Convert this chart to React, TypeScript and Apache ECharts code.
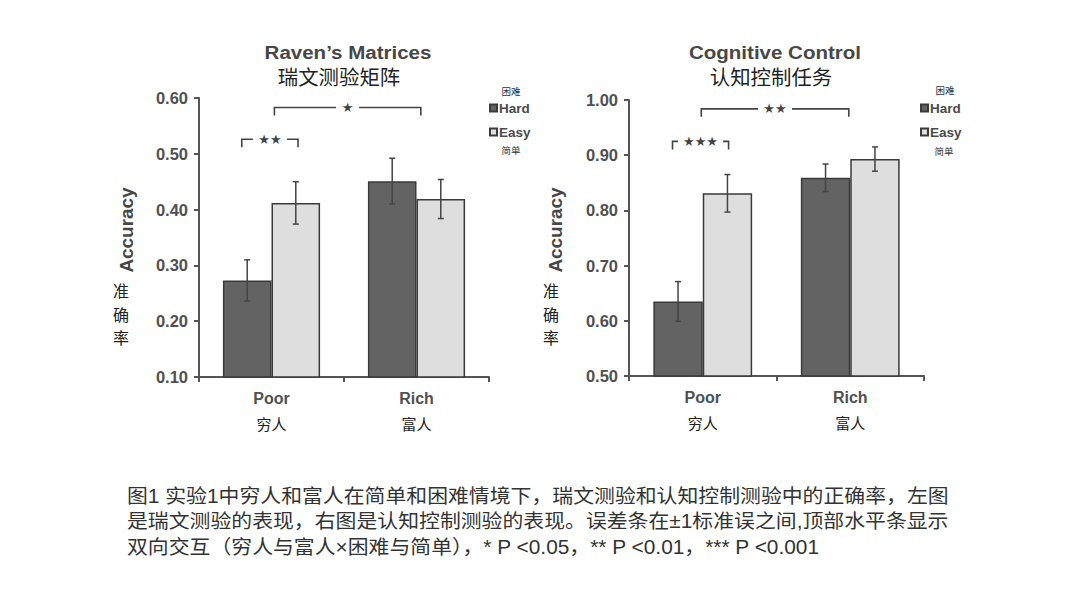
import React, { useEffect, useRef } from 'react';
import * as echarts from 'echarts';

const categories = ['Poor', 'Rich'];
const categoriesZh = ['穷人', '富人'];
const seriesNames = ['Hard', 'Easy'];
const seriesNamesZh = ['困难', '简单'];

const ravenHard = [0.273, 0.451];
const ravenHardErr = [0.037, 0.041];
const ravenEasy = [0.412, 0.419];
const ravenEasyErr = [0.038, 0.035];

const cogHard = [0.635, 0.859];
const cogHardErr = [0.036, 0.025];
const cogEasy = [0.831, 0.893];
const cogEasyErr = [0.034, 0.022];

const ravenAxis = { min: 0.1, max: 0.6, interval: 0.1 };
const cogAxis = { min: 0.5, max: 1.0, interval: 0.1 };

// brackets: [fromCategory, fromOffset(band fraction), toCategory, toOffset, yValue]
const ravenBrackets = [
  [0, -0.205, 0, 0.183, 0.526],
  [0, 0.02, 1, 0.03, 0.583],
];
const ravenBracketLabels = ['★★', '★'];
const cogBrackets = [
  [0, -0.205, 0, 0.175, 0.925],
  [0, -0.01, 1, -0.01, 0.984],
];
const cogBracketLabels = ['★★★', '★★'];

const titles = ['Raven’s Matrices', 'Cognitive Control'];
const subtitles = ['瑞文测验矩阵', '认知控制任务'];
const yName = 'Accuracy';
const yNameZh = ['准', '确', '率'];
const caption = [
  '图1 实验1中穷人和富人在简单和困难情境下，瑞文测验和认知控制测验中的正确率，左图',
  '是瑞文测验的表现，右图是认知控制测验的表现。误差条在±1标准误之间,顶部水平条显示',
  '双向交互（穷人与富人×困难与简单），* P <0.05，** P <0.01，*** P <0.001',
];

const LATIN = '"Liberation Sans", Arial, Helvetica, sans-serif';
const CJK = '"Noto Sans CJK SC", "Liberation Sans", sans-serif';
const MIXED = '"Liberation Sans", "Noto Sans CJK SC", sans-serif';
const HARD_COLOR = '#636363';
const EASY_COLOR = '#dedede';
const BORDER = '#3a3a3a';
const AXIS = '#555555';
const BAR_OFFSET = 0.1675;

function errData(values: number[], errs: number[], side: number) {
  return values.map((v, i) => [i, v - errs[i], v + errs[i], side]);
}

function errorRender(params: any, api: any) {
  const cat = api.value(0);
  const lo = api.value(1);
  const hi = api.value(2);
  const side = api.value(3);
  const band = api.size([1, 0])[0];
  const pLo = api.coord([cat, lo]);
  const pHi = api.coord([cat, hi]);
  const x = pLo[0] + side * band * BAR_OFFSET;
  const cap = 3;
  const st = { stroke: '#444', lineWidth: 1.5 };
  return {
    type: 'group',
    children: [
      { type: 'line', shape: { x1: x, y1: pLo[1], x2: x, y2: pHi[1] }, style: st },
      { type: 'line', shape: { x1: x - cap, y1: pLo[1], x2: x + cap, y2: pLo[1] }, style: st },
      { type: 'line', shape: { x1: x - cap, y1: pHi[1], x2: x + cap, y2: pHi[1] }, style: st },
    ],
  };
}

function bracketRender(labels: string[]) {
  return (params: any, api: any) => {
    const band = api.size([1, 0])[0];
    const y = api.value(4);
    const p1 = api.coord([api.value(0), y]);
    const p2 = api.coord([api.value(2), y]);
    const x1 = p1[0] + api.value(1) * band;
    const x2 = p2[0] + api.value(3) * band;
    const yy = p1[1];
    const label = labels[params.dataIndex];
    const gap = label.length * 11 + 12;
    const mid = (x1 + x2) / 2;
    const tick = 8;
    const st = { stroke: '#444', lineWidth: 1.6, fill: 'none' };
    return {
      type: 'group',
      children: [
        {
          type: 'polyline',
          shape: { points: [[x1, yy + tick], [x1, yy], [mid - gap / 2, yy]] },
          style: st,
        },
        {
          type: 'polyline',
          shape: { points: [[mid + gap / 2, yy], [x2, yy], [x2, yy + tick]] },
          style: st,
        },
        {
          type: 'text',
          style: {
            text: label,
            x: mid,
            y: yy,
            align: 'center',
            verticalAlign: 'middle',
            fontSize: 13,
            fontFamily: '"DejaVu Sans", sans-serif',
            fill: '#444',
          },
        },
      ],
    };
  };
}

function makeAxes(idx: number, ax: { min: number; max: number; interval: number }) {
  const xAxis = {
    type: 'category',
    gridIndex: idx,
    data: categories,
    axisLine: { show: true, lineStyle: { color: AXIS, width: 2 } },
    axisTick: { show: true, length: 5, lineStyle: { color: AXIS, width: 2 } },
    axisLabel: {
      margin: 9,
      formatter: (v: string) => {
        const i = categories.indexOf(v);
        return '{a|' + v + '}\n{b|' + categoriesZh[i] + '}';
      },
      rich: {
        a: { fontSize: 16, fontWeight: 'bold', color: '#505050', fontFamily: LATIN, lineHeight: 24 },
        b: { fontSize: 15, color: '#222', fontFamily: CJK, lineHeight: 26 },
      },
    },
    splitLine: { show: false },
  };
  const yAxis = {
    type: 'value',
    gridIndex: idx,
    min: ax.min,
    max: ax.max,
    interval: ax.interval,
    axisLine: { show: true, lineStyle: { color: AXIS, width: 2 } },
    axisTick: { show: true, length: 5, lineStyle: { color: AXIS, width: 2 } },
    axisLabel: {
      margin: 11,
      fontSize: 16.5,
      fontWeight: 'bold',
      color: '#505050',
      fontFamily: LATIN,
      formatter: (v: number) => v.toFixed(2),
    },
    splitLine: { show: false },
  };
  return { xAxis, yAxis };
}

function barSeries(idx: number, name: string, data: number[], color: string) {
  return {
    type: 'bar',
    name,
    xAxisIndex: idx,
    yAxisIndex: idx,
    data,
    barGap: '0%',
    barCategoryGap: '33%',
    itemStyle: { color, borderColor: BORDER, borderWidth: 1.5 },
    z: 2,
  };
}

function errSeries(idx: number, data: any[]) {
  return {
    type: 'custom',
    xAxisIndex: idx,
    yAxisIndex: idx,
    data,
    encode: { x: 0, y: [1, 2] },
    renderItem: errorRender,
    z: 5,
    silent: true,
  };
}

function bracketSeries(idx: number, data: number[][], labels: string[]) {
  return {
    type: 'custom',
    xAxisIndex: idx,
    yAxisIndex: idx,
    data,
    encode: { x: 0, y: 4 },
    renderItem: bracketRender(labels),
    z: 5,
    silent: true,
    clip: false,
  };
}

export default function App() {
  const ref = useRef<HTMLDivElement>(null);
  useEffect(() => {
    if (!ref.current) return;
    const chart = echarts.init(ref.current, null, { renderer: 'svg' });
    const a0 = makeAxes(0, ravenAxis);
    const a1 = makeAxes(1, cogAxis);
    const legendBase = {
      data: seriesNames,
      orient: 'vertical',
      itemWidth: 7,
      itemHeight: 7,
      itemGap: 10,
      icon: 'rect',
      selectedMode: false,
      textStyle: { fontSize: 13.5, fontWeight: 'bold', color: '#4a4a4a', fontFamily: LATIN, padding: [0, 0, 0, -3] },
      padding: 0,
    };
    const ts = (font: string, size: number, weight: string, color: string) => ({
      fontFamily: font,
      fontSize: size,
      fontWeight: weight,
      fill: color,
      align: 'center',
      verticalAlign: 'middle',
    });
    const graphic: any[] = [
      { type: 'text', x: 348, y: 52, scaleX: 1.08, style: { text: titles[0], ...ts(LATIN, 19, 'bold', '#474747') } },
      { type: 'text', x: 339, y: 77, scaleX: 1.02, style: { text: subtitles[0], ...ts(CJK, 20, 'normal', '#222') } },
      { type: 'text', x: 775, y: 52, scaleX: 1.08, style: { text: titles[1], ...ts(LATIN, 19, 'bold', '#474747') } },
      { type: 'text', x: 771, y: 77, scaleX: 1.02, style: { text: subtitles[1], ...ts(CJK, 20, 'normal', '#222') } },
      { type: 'text', x: 127, y: 230, rotation: Math.PI / 2, scaleX: 1.05, style: { text: yName, ...ts(LATIN, 18, 'bold', '#474747') } },
      { type: 'text', x: 556, y: 230, rotation: Math.PI / 2, scaleX: 1.05, style: { text: yName, ...ts(LATIN, 18, 'bold', '#474747') } },
      { type: 'text', x: 511, y: 91, style: { text: seriesNamesZh[0], ...ts(CJK, 9.5, 'normal', '#333') } },
      { type: 'text', x: 511, y: 150, style: { text: seriesNamesZh[1], ...ts(CJK, 9.5, 'normal', '#333') } },
      { type: 'text', x: 945, y: 90, style: { text: seriesNamesZh[0], ...ts(CJK, 9.5, 'normal', '#333') } },
      { type: 'text', x: 944, y: 151, style: { text: seriesNamesZh[1], ...ts(CJK, 9.5, 'normal', '#333') } },
      {
        type: 'text',
        x: 127,
        y: 483,
        scaleX: 1.07,
        style: {
          text: caption.join('\n'),
          fontFamily: MIXED,
          fontSize: 19.5,
          lineHeight: 25.5,
          fill: '#333',
          align: 'left',
          verticalAlign: 'top',
        },
      },
    ];
    [121, 551].forEach((cx) => {
      yNameZh.forEach((ch, i) => {
        graphic.push({ type: 'text', x: cx, y: 290 + i * 23.5, style: { text: ch, ...ts(CJK, 16, 'normal', '#222') } });
      });
    });
    chart.setOption({
      animation: false,
      backgroundColor: '#ffffff',
      grid: [
        { left: 199, top: 98, width: 290, height: 279 },
        { left: 629, top: 100, width: 295, height: 276 },
      ],
      xAxis: [a0.xAxis, a1.xAxis],
      yAxis: [a0.yAxis, a1.yAxis],
      legend: [
        { ...legendBase, left: 489, top: 101 },
        { ...legendBase, left: 920, top: 101 },
      ],
      series: [
        barSeries(0, seriesNames[0], ravenHard, HARD_COLOR),
        barSeries(0, seriesNames[1], ravenEasy, EASY_COLOR),
        errSeries(0, errData(ravenHard, ravenHardErr, -1).concat(errData(ravenEasy, ravenEasyErr, 1))),
        bracketSeries(0, ravenBrackets, ravenBracketLabels),
        barSeries(1, seriesNames[0], cogHard, HARD_COLOR),
        barSeries(1, seriesNames[1], cogEasy, EASY_COLOR),
        errSeries(1, errData(cogHard, cogHardErr, -1).concat(errData(cogEasy, cogEasyErr, 1))),
        bracketSeries(1, cogBrackets, cogBracketLabels),
      ],
      graphic,
    });
    return () => chart.dispose();
  }, []);
  return <div ref={ref} style={{ position: 'absolute', left: 0, top: 0, width: 1080, height: 608 }} />;
}
